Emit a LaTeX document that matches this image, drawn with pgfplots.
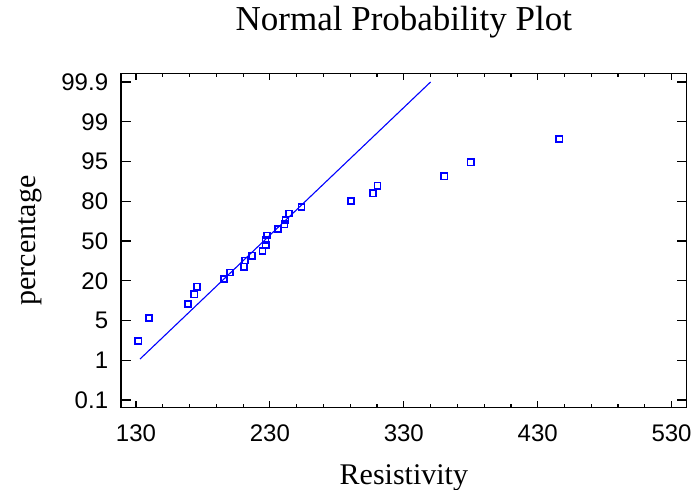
\documentclass[border=0pt]{standalone}
\usepackage{pgfplots}
\pgfplotsset{compat=1.18}
\usepackage{fontspec}
\setmainfont{Liberation Serif}
\newfontfamily\ticksf{Liberation Sans}
\definecolor{sgblue}{RGB}{0,0,255}
\begin{document}
\begin{tikzpicture}
\path[use as bounding box] (0,0) rectangle (693bp,490bp);
\pgfplotsset{
  myframe/.style={
    at={(121bp,82.3bp)}, anchor=south west,
    scale only axis, width=565.7bp, height=334.4bp,
    xmin=118.8, xmax=541.3, ymin=-0.194, ymax=8.219,
    axis line style={line width=1.5bp, black},
    every tick/.style={black, line width=1.2bp},
    tick align=inside,
    /pgf/number format/assume math mode=true,
  }
}
\begin{axis}[
  myframe,
  ytick=\empty,
  xtick={130,230,330,430,530}, minor x tick num=4,
  major tick length=6.5bp, minor tick length=3.5bp,
  xticklabel style={font=\ticksf\fontsize{24bp}{28bp}\selectfont, inner sep=0pt, anchor=north, yshift=-16.6bp},
  title={Normal Probability Plot},
  title style={at={(axis description cs:0.5,1.1115)}, anchor=base, inner sep=0pt, font=\fontsize{35bp}{40bp}\selectfont},
  xlabel={Resistivity},
  xlabel style={at={(axis description cs:0.5,-0.2282)}, anchor=base, inner sep=0pt, font=\fontsize{30bp}{34bp}\selectfont},
  ylabel={percentage},
  ylabel style={at={(axis description cs:-0.152,0.5)}, anchor=base, rotate=0, inner sep=0pt, font=\fontsize{30bp}{34bp}\selectfont},
  clip=false,
]
\addplot[sgblue, line width=1.1bp] coordinates {(133,1.03) (350,8.0)};
\addplot[sgblue, only marks, mark=square, mark size=3.1bp, mark options={draw=sgblue, fill=none, line width=1.4bp}] coordinates {
(131.7,1.484)
(139.7,2.063)
(168.8,2.415)
(173.5,2.659)
(175.6,2.850)
(195.7,3.044)
(200.2,3.203)
(210.7,3.353)
(211.4,3.514)
(216.6,3.630)
(224.6,3.748)
(226.9,3.899)
(226.6,4.025)
(227.8,4.143)
(236.0,4.302)
(240.8,4.420)
(241.8,4.528)
(244.3,4.687)
(253.5,4.855)
(290.6,5.006)
(307.0,5.200)
(310.5,5.391)
(360.2,5.628)
(380.0,5.980)
(446.1,6.566)
};
\end{axis}
\begin{axis}[
  myframe,
  xtick=\empty,
  ytick={0,1,2,3,4,5,6,7,8},
  yticklabels={0.1,1,5,20,50,80,95,99,99.9},
  major tick length=10bp,
  yticklabel style={font=\ticksf\fontsize{24bp}{28bp}\selectfont, inner sep=0pt, anchor=east, xshift=-12.7bp},
]
\end{axis}
\end{tikzpicture}
\end{document}
